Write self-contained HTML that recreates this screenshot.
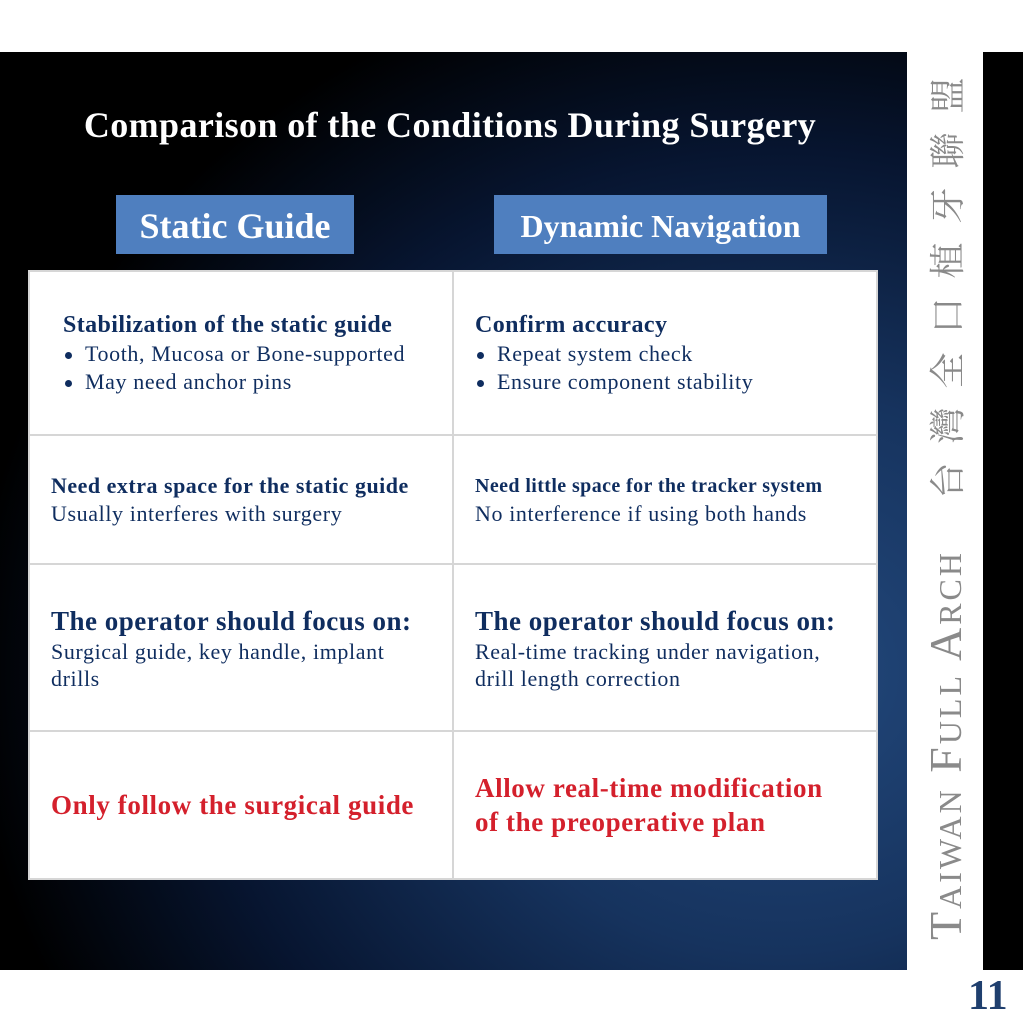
<!DOCTYPE html>
<html><head><meta charset="utf-8"><style>
*{margin:0;padding:0;box-sizing:border-box}
body{width:1024px;height:1024px;background:#fff;position:relative;overflow:hidden;font-family:"Liberation Serif","Noto Serif CJK SC",serif}
#panel{position:absolute;left:0;top:52px;width:907px;height:918px;background:radial-gradient(ellipse 900px 800px at 780px 620px,#23497d 0%,#16335e 35%,#071530 65%,#000 90%);}
#bar{position:absolute;left:983px;top:52px;width:40px;height:918px;background:#000}
h1{position:absolute;left:0;width:900px;top:104px;text-align:center;color:#fff;font-size:36px;font-weight:bold;letter-spacing:0.4px}
.lab{position:absolute;background:#4f7fbf;color:#fff;text-align:center;font-weight:bold}
table{position:absolute;left:28px;top:270px;width:850px;border-collapse:collapse;background:#fff}
td{border:2px solid #d6d6d6;vertical-align:middle;color:#0f2d5f;width:424px;padding-left:21px}
.b{font-weight:bold}
.t{font-size:22px;line-height:28px;letter-spacing:0.6px}
.red{color:#d4202c;font-weight:bold;font-size:27px;line-height:34px;letter-spacing:0.6px}
ul{list-style:none}
li{font-size:22px;line-height:28px;letter-spacing:0.6px;padding-left:22px;position:relative}
li:before{content:"";position:absolute;left:2px;top:12px;width:7px;height:7px;border-radius:50%;background:#0f2d5f}
#vt{position:absolute;left:505px;top:470px;width:880px;height:60px;transform:rotate(-90deg);display:flex;align-items:center;color:#8a8a8a;white-space:nowrap}
#vt .lat{font-size:46px;font-variant:small-caps;letter-spacing:3px;width:432px}
#vt .cj{display:inline-block;width:55px;text-align:center;font-size:36px;font-family:"Noto Serif CJK SC",serif}
#num{position:absolute;left:968px;top:972px;color:#1f3f6e;font-size:42px;font-weight:bold}
</style></head><body>
<div id="panel"></div>
<div id="bar"></div>
<h1>Comparison of the Conditions During Surgery</h1>
<div class="lab" style="left:116px;top:195px;width:238px;height:59px;font-size:36px;line-height:62px">Static Guide</div>
<div class="lab" style="left:494px;top:195px;width:333px;height:59px;font-size:32px;line-height:62px">Dynamic Navigation</div>
<table>
<tr style="height:164px"><td style="padding-left:33px"><div class="b" style="font-size:24px;line-height:30px;letter-spacing:0.4px">Stabilization of the static guide</div><ul><li>Tooth, Mucosa or Bone-supported</li><li>May need anchor pins</li></ul></td>
<td><div class="b" style="font-size:24px;line-height:30px;letter-spacing:0.4px">Confirm accuracy</div><ul><li>Repeat system check</li><li>Ensure component stability</li></ul></td></tr>
<tr style="height:129px"><td><div class="b" style="font-size:22px;line-height:28px;letter-spacing:0.5px">Need extra space for the static guide</div><div class="t">Usually interferes with surgery</div></td>
<td><div class="b" style="font-size:20px;line-height:28px;letter-spacing:0.4px">Need little space for the tracker system</div><div class="t">No interference if using both hands</div></td></tr>
<tr style="height:167px"><td><div class="b" style="font-size:27px;line-height:34px;letter-spacing:0.5px">The operator should focus on:</div><div class="t" style="line-height:27px">Surgical guide, key handle, implant<br>drills</div></td>
<td><div class="b" style="font-size:27px;line-height:34px;letter-spacing:0.5px">The operator should focus on:</div><div class="t" style="line-height:27px">Real-time tracking under navigation,<br>drill length correction</div></td></tr>
<tr style="height:148px"><td><div class="red">Only follow the surgical guide</div></td>
<td><div class="red">Allow real-time modification<br>of the preoperative plan</div></td></tr>
</table>
<div id="vt"><span class="lat">Taiwan Full Arch</span><span class="cj">台</span><span class="cj">灣</span><span class="cj">全</span><span class="cj">口</span><span class="cj">植</span><span class="cj">牙</span><span class="cj">聯</span><span class="cj">盟</span></div>
<div id="num">11</div>
</body></html>
